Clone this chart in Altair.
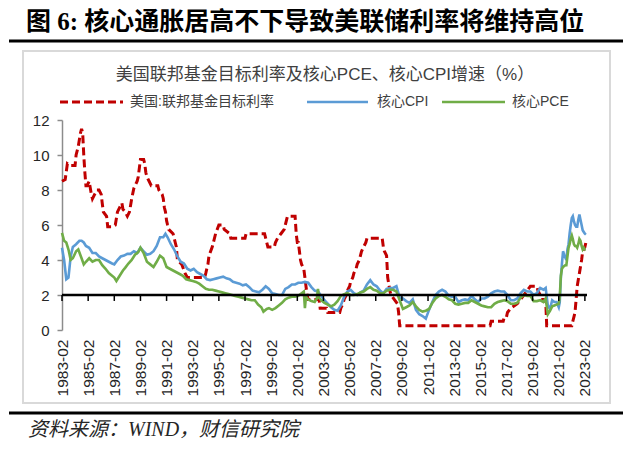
import altair as alt
import pandas as pd

# ---------------- data ----------------
FF = [("1983-02", 8.5), ("1983-05", 8.6), ("1983-07", 9.5), ("1983-09", 9.4), ("1984-02", 9.4),
      ("1984-03", 10.0), ("1984-05", 10.5), ("1984-07", 11.25), ("1984-08", 11.5), ("1984-09", 11.25),
      ("1984-10", 10.0), ("1984-11", 9.0), ("1984-12", 8.25), ("1985-01", 8.25), ("1985-03", 8.5),
      ("1985-05", 7.75), ("1985-06", 7.5), ("1985-08", 7.75), ("1985-10", 8.0), ("1985-12", 8.0),
      ("1986-02", 7.75), ("1986-03", 7.25), ("1986-04", 6.75), ("1986-07", 6.5), ("1986-08", 5.9),
      ("1986-12", 5.9), ("1987-03", 6.0), ("1987-05", 6.75), ("1987-09", 7.25), ("1987-10", 6.9),
      ("1987-12", 6.75), ("1988-02", 6.5), ("1988-04", 6.75), ("1988-06", 7.5), ("1988-08", 8.1),
      ("1988-11", 8.5), ("1988-12", 8.75), ("1989-02", 9.75), ("1989-05", 9.75), ("1989-06", 9.5),
      ("1989-07", 9.0), ("1989-08", 8.75), ("1989-10", 8.5), ("1989-12", 8.25), ("1990-06", 8.25),
      ("1990-07", 8.0), ("1990-10", 7.75), ("1990-11", 7.5), ("1990-12", 7.0), ("1991-01", 6.75),
      ("1991-02", 6.25), ("1991-03", 6.0), ("1991-04", 5.75), ("1991-08", 5.5), ("1991-09", 5.25),
      ("1991-10", 5.0), ("1991-11", 4.75), ("1991-12", 4.0), ("1992-04", 3.75), ("1992-07", 3.25),
      ("1992-09", 3.0), ("1994-01", 3.0), ("1994-02", 3.25), ("1994-03", 3.5), ("1994-04", 3.75),
      ("1994-05", 4.25), ("1994-08", 4.75), ("1994-11", 5.5), ("1995-02", 6.0), ("1995-06", 6.0),
      ("1995-07", 5.75), ("1995-12", 5.5), ("1996-01", 5.25), ("1997-02", 5.25), ("1997-03", 5.5),
      ("1998-08", 5.5), ("1998-09", 5.25), ("1998-10", 5.0), ("1998-11", 4.75), ("1999-05", 4.75),
      ("1999-06", 5.0), ("1999-08", 5.25), ("1999-11", 5.5), ("2000-02", 5.75), ("2000-03", 6.0),
      ("2000-05", 6.5), ("2000-12", 6.5), ("2001-01", 5.5), ("2001-02", 5.0), ("2001-03", 5.0),
      ("2001-04", 4.5), ("2001-05", 4.0), ("2001-06", 3.75), ("2001-08", 3.5), ("2001-09", 3.0),
      ("2001-10", 2.5), ("2001-11", 2.0), ("2001-12", 1.75), ("2002-10", 1.75), ("2002-11", 1.25),
      ("2003-05", 1.25), ("2003-06", 1.0), ("2004-05", 1.0), ("2004-06", 1.25), ("2004-08", 1.5),
      ("2004-09", 1.75), ("2004-11", 2.0), ("2004-12", 2.25), ("2005-02", 2.5), ("2005-03", 2.75),
      ("2005-05", 3.0), ("2005-06", 3.25), ("2005-08", 3.5), ("2005-09", 3.75), ("2005-11", 4.0),
      ("2005-12", 4.25), ("2006-01", 4.5), ("2006-03", 4.75), ("2006-05", 5.0), ("2006-06", 5.25),
      ("2007-08", 5.25), ("2007-09", 4.75), ("2007-10", 4.5), ("2007-12", 4.25), ("2008-01", 3.0),
      ("2008-03", 2.25), ("2008-04", 2.0), ("2008-10", 1.5), ("2008-11", 1.0), ("2008-12", 0.25),
      ("2015-11", 0.25), ("2015-12", 0.5), ("2016-11", 0.5), ("2016-12", 0.75), ("2017-02", 0.75),
      ("2017-03", 1.0), ("2017-06", 1.25), ("2017-12", 1.5), ("2018-03", 1.75), ("2018-06", 2.0),
      ("2018-09", 2.25), ("2018-12", 2.5), ("2019-06", 2.5), ("2019-07", 2.25), ("2019-09", 2.0),
      ("2019-10", 1.75), ("2020-02", 1.75), ("2020-03", 0.25), ("2022-02", 0.25), ("2022-03", 0.5),
      ("2022-05", 1.0), ("2022-06", 1.75), ("2022-07", 2.5), ("2022-09", 3.25), ("2022-11", 4.0),
      ("2022-12", 4.5), ("2023-02", 4.75), ("2023-03", 5.0)]

CPI = [("1983-02", 4.7), ("1983-04", 4.0), ("1983-06", 2.9), ("1983-08", 3.0), ("1983-10", 4.2),
       ("1983-12", 4.75), ("1984-03", 4.9), ("1984-06", 5.1), ("1984-08", 5.1), ("1984-10", 5.0),
       ("1984-12", 4.8), ("1985-03", 4.7), ("1985-06", 4.4), ("1985-09", 4.4), ("1985-12", 4.2),
       ("1986-03", 4.1), ("1986-06", 4.0), ("1986-09", 3.9), ("1986-12", 3.8), ("1987-02", 3.75),
       ("1987-05", 4.0), ("1987-08", 4.2), ("1987-11", 4.25), ("1988-02", 4.35), ("1988-05", 4.35),
       ("1988-08", 4.5), ("1988-11", 4.4), ("1989-02", 4.7), ("1989-05", 4.5), ("1989-08", 4.3),
       ("1989-11", 4.35), ("1990-02", 4.5), ("1990-05", 4.8), ("1990-08", 5.3), ("1990-11", 5.3),
       ("1991-01", 5.5), ("1991-03", 5.3), ("1991-06", 4.9), ("1991-09", 4.6), ("1991-12", 4.2),
       ("1992-03", 3.9), ("1992-06", 3.8), ("1992-09", 3.5), ("1992-12", 3.4), ("1993-03", 3.5),
       ("1993-06", 3.3), ("1993-09", 3.2), ("1993-12", 3.1), ("1994-03", 2.9), ("1994-06", 2.85),
       ("1994-09", 2.9), ("1994-12", 2.95), ("1995-03", 3.0), ("1995-06", 3.05), ("1995-09", 2.95),
       ("1995-12", 2.9), ("1996-03", 2.75), ("1996-06", 2.7), ("1996-09", 2.65), ("1996-12", 2.55),
       ("1997-03", 2.6), ("1997-06", 2.45), ("1997-09", 2.25), ("1997-12", 2.2), ("1998-03", 2.15),
       ("1998-06", 2.3), ("1998-09", 2.5), ("1998-12", 2.35), ("1999-03", 2.1), ("1999-06", 2.05),
       ("1999-09", 2.0), ("1999-12", 2.0), ("2000-03", 2.35), ("2000-06", 2.45), ("2000-09", 2.6),
       ("2000-12", 2.6), ("2001-03", 2.7), ("2001-06", 2.7), ("2001-09", 2.75), ("2001-12", 2.7),
       ("2002-03", 2.45), ("2002-06", 2.25), ("2002-09", 2.2), ("2002-12", 1.95), ("2003-03", 1.7),
       ("2003-06", 1.5), ("2003-09", 1.3), ("2003-12", 1.15), ("2004-03", 1.1), ("2004-06", 1.4),
       ("2004-09", 1.9), ("2004-12", 2.2), ("2005-03", 2.3), ("2005-06", 2.1), ("2005-09", 2.0),
       ("2005-12", 2.15), ("2006-03", 2.25), ("2006-06", 2.6), ("2006-09", 2.85), ("2006-12", 2.6),
       ("2007-03", 2.5), ("2007-06", 2.25), ("2007-09", 2.1), ("2007-12", 2.35), ("2008-03", 2.4),
       ("2008-06", 2.4), ("2008-09", 2.5), ("2008-12", 1.85), ("2009-03", 1.8), ("2009-06", 1.65),
       ("2009-09", 1.55), ("2009-12", 1.75), ("2010-03", 1.15), ("2010-06", 0.9), ("2010-09", 0.8),
       ("2010-12", 0.65), ("2011-03", 1.15), ("2011-06", 1.6), ("2011-09", 2.0), ("2011-12", 2.2),
       ("2012-03", 2.3), ("2012-06", 2.2), ("2012-09", 1.95), ("2012-12", 1.9), ("2013-03", 1.9),
       ("2013-06", 1.6), ("2013-09", 1.7), ("2013-12", 1.75), ("2014-03", 1.7), ("2014-06", 1.95),
       ("2014-09", 1.75), ("2014-12", 1.6), ("2015-03", 1.8), ("2015-06", 1.8), ("2015-09", 1.9),
       ("2015-12", 2.1), ("2016-03", 2.2), ("2016-06", 2.25), ("2016-09", 2.2), ("2016-12", 2.2),
       ("2017-03", 2.0), ("2017-06", 1.7), ("2017-09", 1.7), ("2017-12", 1.8), ("2018-03", 2.1),
       ("2018-06", 2.3), ("2018-09", 2.2), ("2018-12", 2.2), ("2019-03", 2.0), ("2019-06", 2.1),
       ("2019-09", 2.4), ("2019-12", 2.3), ("2020-02", 2.4), ("2020-04", 1.4), ("2020-06", 1.2),
       ("2020-08", 1.7), ("2020-10", 1.6), ("2020-12", 1.6), ("2021-02", 1.3), ("2021-03", 1.6),
       ("2021-04", 3.0), ("2021-05", 3.8), ("2021-06", 4.5), ("2021-07", 4.3), ("2021-09", 4.0),
       ("2021-10", 4.6), ("2021-11", 4.9), ("2021-12", 5.5), ("2022-01", 6.0), ("2022-02", 6.4),
       ("2022-03", 6.5), ("2022-04", 6.2), ("2022-05", 6.0), ("2022-06", 5.9), ("2022-07", 5.9),
       ("2022-08", 6.3), ("2022-09", 6.6), ("2022-10", 6.3), ("2022-11", 6.0), ("2022-12", 5.7),
       ("2023-01", 5.6), ("2023-02", 5.5), ("2023-03", 5.45)]

PCE = [("1983-02", 5.55), ("1983-04", 5.1), ("1983-06", 5.0), ("1983-08", 4.6), ("1983-10", 4.0),
       ("1983-12", 4.1), ("1984-03", 4.5), ("1984-05", 4.6), ("1984-08", 4.1), ("1984-10", 3.75),
       ("1984-12", 3.9), ("1985-03", 4.1), ("1985-06", 3.9), ("1985-09", 4.0), ("1985-12", 4.0),
       ("1986-03", 3.7), ("1986-06", 3.5), ("1986-09", 3.25), ("1986-12", 3.1), ("1987-02", 3.0),
       ("1987-04", 2.8), ("1987-07", 3.1), ("1987-10", 3.4), ("1987-12", 3.55), ("1988-03", 3.8),
       ("1988-06", 4.0), ("1988-09", 4.3), ("1988-12", 4.45), ("1989-02", 4.7), ("1989-05", 4.4),
       ("1989-08", 3.9), ("1989-11", 3.75), ("1990-02", 3.6), ("1990-05", 3.9), ("1990-08", 4.25),
       ("1990-11", 4.1), ("1991-02", 3.6), ("1991-05", 3.5), ("1991-08", 3.4), ("1991-11", 3.3),
       ("1992-02", 3.2), ("1992-05", 3.1), ("1992-08", 2.9), ("1992-11", 2.85), ("1993-02", 2.8),
       ("1993-05", 2.75), ("1993-08", 2.65), ("1993-11", 2.5), ("1994-02", 2.35), ("1994-05", 2.3),
       ("1994-08", 2.3), ("1994-11", 2.25), ("1995-02", 2.2), ("1995-05", 2.15), ("1995-08", 2.1),
       ("1995-11", 2.05), ("1996-02", 2.0), ("1996-05", 1.95), ("1996-08", 1.9), ("1996-11", 1.85),
       ("1997-02", 1.8), ("1997-05", 1.75), ("1997-08", 1.7), ("1997-11", 1.7), ("1998-02", 1.45),
       ("1998-05", 1.3), ("1998-07", 1.05), ("1998-10", 1.2), ("1998-12", 1.25), ("1999-03", 1.15),
       ("1999-06", 1.25), ("1999-09", 1.4), ("1999-12", 1.55), ("2000-03", 1.75), ("2000-06", 1.85),
       ("2000-09", 1.9), ("2000-12", 1.9), ("2001-03", 1.95), ("2001-06", 2.1), ("2001-08", 2.2),
       ("2001-09", 1.25), ("2001-10", 1.9), ("2001-12", 1.75), ("2002-03", 1.65), ("2002-06", 1.6),
       ("2002-08", 1.8), ("2002-09", 2.35), ("2002-10", 1.85), ("2002-12", 1.7), ("2003-03", 1.55),
       ("2003-06", 1.45), ("2003-09", 1.35), ("2003-12", 1.45), ("2004-03", 1.65), ("2004-06", 1.95),
       ("2004-09", 2.05), ("2004-12", 2.1), ("2005-03", 2.0), ("2005-06", 2.0), ("2005-09", 2.05),
       ("2005-12", 2.15), ("2006-03", 2.2), ("2006-06", 2.35), ("2006-09", 2.45), ("2006-12", 2.3),
       ("2007-03", 2.25), ("2007-06", 2.1), ("2007-09", 2.1), ("2007-12", 2.25), ("2008-03", 2.3),
       ("2008-06", 2.3), ("2008-09", 2.2), ("2008-12", 1.7), ("2009-03", 1.2), ("2009-06", 1.3),
       ("2009-09", 1.4), ("2009-12", 1.6), ("2010-03", 1.35), ("2010-06", 1.15), ("2010-09", 1.05),
       ("2010-12", 1.1), ("2011-03", 1.2), ("2011-06", 1.55), ("2011-09", 1.8), ("2011-12", 1.95),
       ("2012-03", 2.0), ("2012-06", 1.9), ("2012-09", 1.75), ("2012-12", 1.7), ("2013-03", 1.5),
       ("2013-06", 1.45), ("2013-09", 1.5), ("2013-12", 1.55), ("2014-03", 1.55), ("2014-06", 1.7),
       ("2014-09", 1.6), ("2014-12", 1.5), ("2015-03", 1.4), ("2015-06", 1.35), ("2015-09", 1.3),
       ("2015-12", 1.3), ("2016-03", 1.5), ("2016-06", 1.6), ("2016-09", 1.65), ("2016-12", 1.7),
       ("2017-03", 1.65), ("2017-06", 1.5), ("2017-09", 1.5), ("2017-12", 1.55), ("2018-03", 1.85),
       ("2018-06", 2.0), ("2018-09", 1.95), ("2018-12", 1.95), ("2019-03", 1.65), ("2019-06", 1.65),
       ("2019-09", 1.7), ("2019-12", 1.6), ("2020-02", 1.8), ("2020-04", 0.9), ("2020-06", 1.1),
       ("2020-08", 1.35), ("2020-10", 1.4), ("2020-12", 1.45), ("2021-02", 1.5), ("2021-03", 1.9),
       ("2021-04", 3.1), ("2021-05", 3.5), ("2021-06", 3.6), ("2021-08", 3.7), ("2021-09", 3.7),
       ("2021-10", 4.2), ("2021-11", 4.7), ("2021-12", 4.9), ("2022-01", 5.2), ("2022-02", 5.4),
       ("2022-03", 5.2), ("2022-04", 4.9), ("2022-05", 4.8), ("2022-06", 4.8), ("2022-07", 4.7),
       ("2022-08", 4.9), ("2022-09", 5.2), ("2022-10", 5.1), ("2022-11", 4.8), ("2022-12", 4.6),
       ("2023-01", 4.7), ("2023-02", 4.6), ("2023-03", 4.6)]

SERIES = ["美国:联邦基金目标利率", "核心CPI", "核心PCE"]
COLORS = ["#C00000", "#5B9BD5", "#70AD47"]
X_TICK_YEARS = list(range(1983, 2024, 2))
Y_TICKS = [0, 2, 4, 6, 8, 10, 12]
REF_LEVEL = 2

MAIN_TITLE = "图 6:  核心通胀居高不下导致美联储利率将维持高位"
CHART_TITLE = "美国联邦基金目标利率及核心PCE、核心CPI增速（%）"
SOURCE = "资料来源：WIND，财信研究院"

W, H = 525, 210


def frame(pairs):
    return pd.DataFrame({"date": [d + "-01" for d, _ in pairs], "value": [v for _, v in pairs]})


one = pd.DataFrame({"k": [0]})
ticks_df = pd.DataFrame({"date": [f"{y}-02-01" for y in X_TICK_YEARS]})

x_scale = alt.Scale(type="utc",
                    domain=[alt.DateTime(year=1983, month=2, date=1, utc=True),
                            alt.DateTime(year=2023, month=4, date=1, utc=True)])
y_scale = alt.Scale(domain=[0, 12], nice=False, zero=True)

x_axis = alt.Axis(values=[alt.DateTime(year=y, month=2, date=1, utc=True) for y in X_TICK_YEARS],
                  labelExpr="utcFormat(datum.value, '%Y-%m')", labelAngle=270, domain=False,
                  ticks=False, tickSize=0, grid=False, labelPadding=9, labelFontSize=15.5,
                  labelFont="Liberation Sans", labelColor="#262626", title=None, labelOverlap=False)
y_axis = alt.Axis(values=Y_TICKS, domain=True, domainColor="#8c8c8c", domainWidth=1.5,
                  ticks=True, tickSize=5, tickColor="#8c8c8c", tickWidth=1.5, grid=False,
                  labelPadding=8, labelFontSize=15, labelFont="Liberation Sans",
                  labelColor="#262626", title=None)

X = alt.X("date:T", scale=x_scale, axis=x_axis)
Y = alt.Y("value:Q", scale=y_scale, axis=y_axis)
Y_REF = alt.YDatum(REF_LEVEL, scale=y_scale, axis=y_axis)


def series_line(pairs, color, dash=None, width=2.6):
    kw = dict(color=color, strokeWidth=width, strokeCap="butt")
    if dash:
        kw["strokeDash"] = dash
    return alt.Chart(frame(pairs)).mark_line(**kw).encode(x=X, y=Y)


ff_line = series_line(FF, COLORS[0], dash=[8, 4], width=3)
cpi_line = series_line(CPI, COLORS[1])
pce_line = series_line(PCE, COLORS[2])

ref_rule = alt.Chart(one).mark_rule(color="black", strokeWidth=2.5).encode(
    x=alt.value(0), x2=alt.value(W), y=Y_REF)
tick_rules = alt.Chart(ticks_df).mark_rule(color="black", strokeWidth=1.5).encode(
    x=X, y=Y_REF, y2=alt.datum(REF_LEVEL - 0.34))

# frame & decorations
box = alt.Chart(one).mark_rect(fillOpacity=0, stroke="#d9d9d9", strokeWidth=2).encode(
    x=alt.value(-39), x2=alt.value(548), y=alt.value(-69), y2=alt.value(283))
top_line = alt.Chart(one).mark_rule(color="black", strokeWidth=3).encode(
    x=alt.value(-53), x2=alt.value(561), y=alt.value(-79))
bot_line = alt.Chart(one).mark_rule(color="black", strokeWidth=3).encode(
    x=alt.value(-53), x2=alt.value(561), y=alt.value(293))

main_title = alt.Chart(one).mark_text(align="left", baseline="middle", fontSize=25, fontWeight="bold",
                                      font="Liberation Serif, Noto Sans CJK SC", color="black").encode(
    x=alt.value(-36), y=alt.value(-98), text=alt.value(MAIN_TITLE))
chart_title = alt.Chart(one).mark_text(align="center", baseline="middle", fontSize=17,
                                       font="Liberation Sans, Noto Sans CJK SC", color="#404040").encode(
    x=alt.value(263), y=alt.value(-45), text=alt.value(CHART_TITLE))
source = alt.Chart(one).mark_text(align="left", baseline="middle", fontSize=20, fontStyle="italic",
                                  font="Liberation Serif, Noto Sans CJK SC", color="#262626").encode(
    x=alt.value(-34), y=alt.value(310), text=alt.value(SOURCE))

# legend
LEG_Y = -18
leg_layers = []
leg_spec = [(-2, 61, 68), (245, 306, 315), (380, 443, 450)]
for (x0, x1, tx), name, col, dash in zip(leg_spec, SERIES, COLORS, [[8, 4], None, None]):
    kw = dict(color=col, strokeWidth=3 if dash else 2.6, strokeCap="butt")
    if dash:
        kw["strokeDash"] = dash
    leg_layers.append(alt.Chart(one).mark_rule(**kw).encode(
        x=alt.value(x0), x2=alt.value(x1), y=alt.value(LEG_Y)))
    leg_layers.append(alt.Chart(one).mark_text(align="left", baseline="middle", fontSize=14,
                                               font="Liberation Sans, Noto Sans CJK SC",
                                               color="#404040").encode(
        x=alt.value(tx), y=alt.value(LEG_Y), text=alt.value(name)))

chart = alt.layer(
    ff_line, cpi_line, pce_line, ref_rule, tick_rules,
    box, top_line, bot_line, main_title, chart_title, source, *leg_layers
).properties(
    width=W, height=H,
    padding={"left": 54, "top": 112, "right": 45, "bottom": 120},
    autosize=alt.AutoSizeParams(type="none"),
    background="white",
).configure_view(strokeWidth=0)

chart.save("out.html", embed_options={"renderer": "svg", "actions": False})
